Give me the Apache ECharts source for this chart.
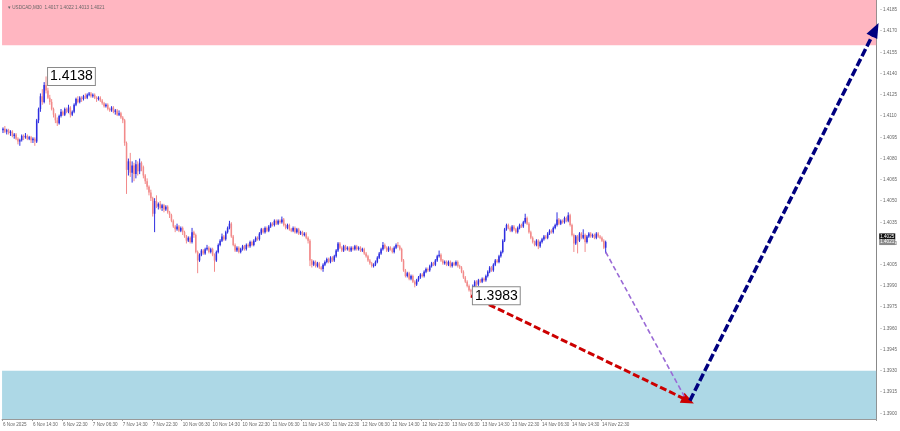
<!DOCTYPE html>
<html>
<head>
<meta charset="utf-8">
<script src="https://cdn.jsdelivr.net/npm/echarts@6/dist/echarts.min.js"></script>
<style>
html,body{margin:0;padding:0;background:#fff;}
#chart{width:900px;height:431px;}
</style>
</head>
<body>
<div id="chart"></div>
<script>
// ---- data (prices stored as pips above 1.3900) ----
const BASE = 1.39;
const PIP = 0.0001;
const symbolTitle = '\u25BE USDCAD,M30  1.4017 1.4022 1.4013 1.4021';
// candles: [open, close, low, high] in pips above BASE (M30 bars)
const candles = [
[200,201,198,202],[201,199,198,203],[199,200,197,201],[200,198,197,201],[198,199,196,200],[199,196,195,200],[196,197,194,198],[197,194,193,198],
[194,192,190,195],[192,193,189,194],[193,196,192,197],[196,195,193,197],[195,196,194,198],[196,194,193,197],[194,195,193,196],[195,193,191,196],
[193,194,191,195],[194,192,189,195],[192,207,191,208],[207,215,205,216],[215,224,213,226],[224,220,218,229],[220,232,219,234],[232,228,226,238],
[228,223,222,230],[223,220,218,225],[220,215,214,222],[215,211,209,216],[211,207,205,212],[207,205,203,209],[205,210,204,211],[210,213,209,215],
[213,211,210,214],[211,215,210,216],[215,213,212,216],[213,216,212,218],[216,211,209,217],[211,213,210,214],[213,218,212,219],[218,222,217,223],
[222,220,219,224],[220,223,219,224],[223,222,220,224],[222,224,221,225],[224,223,222,226],[223,225,222,226],[225,226,224,227],[226,224,223,227],
[224,225,223,226],[225,223,222,226],[223,222,220,224],[222,223,221,224],[223,221,220,224],[221,219,218,222],[219,217,216,220],[217,218,216,219],
[218,215,214,219],[215,214,213,216],[214,216,213,217],[216,213,212,217],[213,214,211,215],[214,211,210,215],[211,212,210,214],[212,209,208,213],
[209,207,205,210],[207,191,189,208],[191,172,155,192],[172,178,168,180],[178,170,167,184],[170,175,163,178],[175,169,164,177],[169,176,166,179],
[176,171,168,178],[171,177,169,180],[177,174,171,178],[174,168,166,175],[168,164,162,169],[164,160,158,166],[160,156,154,161],[156,152,150,158],
[152,141,139,153],[141,150,128,152],[150,146,145,154],[146,148,144,149],[148,145,144,150],[145,147,143,148],[147,144,142,148],[144,146,143,147],
[146,142,141,147],[142,140,138,143],[140,136,135,141],[136,132,131,137],[132,130,128,133],[130,132,129,134],[132,129,128,133],[129,131,128,132],
[131,128,126,132],[128,125,124,129],[125,122,120,126],[122,124,121,125],[124,121,120,125],[121,128,120,131],[128,126,124,129],[126,114,113,127],
[114,108,99,115],[108,112,107,113],[112,115,111,116],[115,113,112,116],[113,116,112,117],[116,117,115,119],[117,114,113,118],[114,116,113,117],
[116,112,111,117],[112,108,100,113],[108,114,107,115],[114,119,113,120],[119,122,118,123],[122,125,121,127],[125,123,122,126],[123,128,122,129],
[128,131,127,132],[131,134,130,136],[134,125,124,135],[125,119,118,126],[119,115,114,120],[115,117,114,118],[117,114,113,118],[114,116,113,117],
[116,118,115,119],[118,116,115,119],[116,119,115,120],[119,118,117,120],[118,121,117,122],[121,119,118,122],[119,122,118,123],[122,124,121,125],
[124,123,122,125],[123,127,122,128],[127,130,126,131],[130,128,127,131],[128,131,127,132],[131,129,128,132],[129,132,128,133],[132,134,131,135],
[134,133,132,135],[133,136,132,137],[136,134,133,137],[134,136,133,137],[136,135,134,137],[135,137,134,139],[137,133,132,138],[133,131,130,134],
[131,133,130,134],[133,130,129,134],[130,129,128,131],[129,131,128,132],[131,128,127,132],[128,130,127,131],[130,127,126,131],[127,128,126,129],
[128,126,125,129],[126,127,125,128],[127,124,123,128],[124,122,120,125],[122,108,104,123],[108,105,103,109],[105,107,104,108],[107,104,103,108],
[104,106,103,107],[106,103,102,107],[103,102,101,104],[102,105,100,106],[105,107,104,108],[107,109,106,110],[109,107,106,110],[107,110,106,111],
[110,108,107,111],[108,111,107,112],[111,115,110,116],[115,120,114,121],[120,117,116,121],[117,115,114,118],[115,118,114,119],[118,116,115,119],
[116,117,115,118],[117,115,114,118],[115,117,114,118],[117,116,115,118],[116,118,115,119],[118,116,115,119],[116,117,115,118],[117,115,114,118],
[115,116,114,117],[116,113,112,117],[113,111,110,114],[111,108,107,112],[108,106,105,109],[106,104,103,107],[104,105,103,106],[105,107,104,108],
[107,110,106,111],[110,113,109,114],[113,116,112,117],[116,119,115,121],[119,117,116,120],[117,115,114,118],[115,117,114,118],[117,116,115,118],
[116,114,113,117],[114,117,113,118],[117,119,116,120],[119,118,117,121],[118,116,115,119],[116,108,107,117],[108,101,100,109],[101,97,96,102],
[97,99,96,100],[99,95,94,100],[95,97,94,98],[97,93,92,98],[93,91,89,94],[91,94,90,95],[94,96,93,97],[96,98,95,99],
[98,97,96,99],[97,100,96,101],[100,102,99,103],[102,101,100,103],[101,104,100,105],[104,106,103,107],[106,105,104,107],[105,108,104,109],
[108,111,107,112],[111,112,110,115],[112,108,107,113],[108,106,105,109],[106,107,105,108],[107,105,104,108],[105,107,104,108],[107,104,103,108],
[104,106,103,107],[106,105,104,107],[105,107,104,108],[107,104,103,108],[104,103,102,105],[103,100,99,104],[100,96,95,101],[96,93,92,97],
[93,90,89,94],[90,87,86,91],[87,86,83,88],[86,90,85,91],[90,93,89,94],[93,91,90,94],[91,94,90,95],[94,93,92,95],
[93,95,92,96],[95,94,93,96],[94,97,93,98],[97,100,96,101],[100,103,99,104],[103,101,100,104],[101,105,100,106],[105,108,104,109],
[108,107,106,109],[107,111,106,112],[111,114,110,115],[114,122,113,123],[122,130,121,131],[130,133,129,134],[133,131,130,134],[131,129,128,132],
[129,132,128,133],[132,130,129,133],[130,128,127,131],[128,131,127,132],[131,133,130,134],[133,132,131,134],[132,135,131,136],[135,138,134,141],
[138,134,133,139],[134,128,127,135],[128,124,123,129],[124,121,120,125],[121,119,118,122],[119,122,118,123],[122,118,116,123],[118,121,117,122],
[121,123,120,124],[123,125,122,126],[125,124,123,126],[124,127,123,128],[127,129,126,130],[129,128,127,130],[128,131,127,132],[131,133,130,134],
[133,137,132,142],[137,134,133,138],[134,136,133,137],[136,135,134,137],[135,138,134,139],[138,136,135,139],[136,140,135,142],[140,133,132,141],
[133,126,125,134],[126,120,114,127],[120,125,119,126],[125,122,113,126],[122,127,121,128],[127,124,123,128],[124,126,123,130],[126,121,114,127],
[121,125,120,126],[125,127,124,128],[127,125,124,128],[125,126,124,127],[126,124,123,127],[124,127,123,128],[127,125,124,128],[125,124,123,126],
[124,122,121,125],[122,117,116,123],[117,121,113,122]
];
const totalSlots = 467;            // bars + empty chart-shift area
const xTickStep = 16;
const xTickLabels = ['6 Nov 2025','6 Nov 14:30','6 Nov 22:30','7 Nov 06:30','7 Nov 14:30','7 Nov 22:30',
  '10 Nov 06:30','10 Nov 14:30','10 Nov 22:30','11 Nov 06:30','11 Nov 14:30','11 Nov 22:30',
  '12 Nov 06:30','12 Nov 14:30','12 Nov 22:30','13 Nov 06:30','13 Nov 14:30','13 Nov 22:30',
  '14 Nov 06:30','14 Nov 14:30','14 Nov 22:30'];
const yTickLabels = ['1.4185','1.4170','1.4155','1.4140','1.4125','1.4110','1.4095','1.4080','1.4065','1.4050',
  '1.4035','1.4020','1.4005','1.3990','1.3975','1.3960','1.3945','1.3930','1.3915','1.3900'];
const yMin = 1.3896, yMax = 1.4192;
const sellZone = [1.4160, 1.4192];
const buyZone = [1.3896, 1.3930];
// wave marks: [barIndex, price]
const peakMark = [23, 1.4138];
const lowMark = [250, 1.3983];
const redArrow = [[250, 1.3983], [366, 1.3909]];
const purplePath = [[322, 1.4014], [364, 1.3912]];
const blueArrow = [[367, 1.3909], [466, 1.4171]];
const priceTags = [[1.4025, '1.4025', '#111'], [1.4021, '1.4021', '#8a8a8a']];

// ---- build ----
const BULL = '#2e2ee0', BEAR = '#f28a8a';
const toPrice = v => +(BASE + v * PIP).toFixed(4);
const seriesData = candles.map((c, i) => [i].concat(c.map(toPrice)));
const categories = Array.from({length: totalSlots}, (_, i) => 'b' + i);
const showTick = (i) => i % xTickStep === 0 && (i / xTickStep) < xTickLabels.length;
const yTickSet = new Set(yTickLabels.map(s => Math.round(parseFloat(s) * 10000)));

function renderCandle(params, api) {
  const i = api.value(0), o = api.value(1), c = api.value(2), l = api.value(3), h = api.value(4);
  const pO = api.coord([i, o]), pC = api.coord([i, c]);
  const pL = api.coord([i, l]), pH = api.coord([i, h]);
  const col = c >= o ? BULL : BEAR;
  const top = Math.min(pO[1], pC[1]);
  const bh = Math.max(1, Math.abs(pO[1] - pC[1]));
  const x = pO[0];
  return {
    type: 'group',
    children: [
      {type: 'line', shape: {x1: x, y1: pH[1], x2: x, y2: pL[1]}, style: {stroke: col, lineWidth: 1}},
      {type: 'rect', shape: {x: x - 0.75, y: top, width: 1.5, height: bh}, style: {fill: col}}
    ]
  };
}

const chart = echarts.init(document.getElementById('chart'), null, {renderer: 'canvas'});
const font = 'Liberation Sans';
chart.setOption({
  animation: false,
  backgroundColor: '#ffffff',
  title: {
    text: symbolTitle, left: 3, top: 0,
    textStyle: {fontSize: 4.6, fontWeight: 'normal', color: '#666', fontFamily: font}
  },
  grid: {left: 0, right: 17, top: 0, bottom: 12},
  xAxis: {
    type: 'category', data: categories, boundaryGap: true,
    axisLine: {show: true, lineStyle: {color: '#999', width: 1}},
    axisTick: {show: true, interval: showTick, length: 2, lineStyle: {color: '#999'}},
    axisLabel: {
      interval: showTick, align: 'left', margin: 3, fontSize: 4.6, color: '#666', fontFamily: font,
      formatter: (v) => { const i = parseInt(v.slice(1)); return showTick(i) ? xTickLabels[i / xTickStep] : ''; }
    },
    splitLine: {show: false}
  },
  yAxis: {
    type: 'value', position: 'right', min: yMin, max: yMax, interval: 0.0001, scale: true,
    axisLine: {show: true, lineStyle: {color: '#888', width: 1}},
    axisTick: {show: false},
    axisLabel: {
      margin: 4, fontSize: 4.6, color: '#666', fontFamily: font,
      formatter: (v) => yTickSet.has(Math.round(v * 10000)) ? '- ' + v.toFixed(4) : ''
    },
    splitLine: {show: false}
  },
  series: [{
    type: 'custom',
    renderItem: renderCandle,
    data: seriesData,
    encode: {x: 0, y: [1, 2, 3, 4]},
    clip: true,
    markArea: {
      silent: true,
      data: [
        [{yAxis: sellZone[0], itemStyle: {color: '#ffb6c1'}}, {yAxis: sellZone[1]}],
        [{yAxis: buyZone[0], itemStyle: {color: '#add8e6'}}, {yAxis: buyZone[1]}]
      ]
    },
    markLine: {
      silent: true,
      animation: false,
      data: [
        [{coord: redArrow[0], symbol: 'none', lineStyle: {color: '#cc0000', width: 3, type: [7, 3]}},
         {coord: redArrow[1], symbol: 'triangle', symbolSize: [11, 13]}],
        [{coord: purplePath[0], symbol: 'none', lineStyle: {color: '#9a6ad6', width: 1.6, type: [5, 3]}},
         {coord: purplePath[1], symbol: 'none'}],
        [{coord: blueArrow[0], symbol: 'none', lineStyle: {color: '#000080', width: 3.5, type: [8, 3]}},
         {coord: blueArrow[1], symbol: 'triangle', symbolSize: [12, 15]}],
        ...priceTags.map(t => [
          {coord: [0, t[0]], symbol: 'none', lineStyle: {color: 'rgba(0,0,0,0)', width: 1},
           label: {show: true, position: 'end', formatter: t[1], backgroundColor: t[2], color: '#fff',
                   fontSize: 4.6, fontFamily: font, padding: [1, 1, 0, 1], distance: 4}},
          {coord: [totalSlots - 1, t[0]], symbol: 'none'}
        ])
      ],
      label: {show: false}
    },
    markPoint: {
      silent: true,
      symbol: 'rect', symbolSize: 0,
      data: [peakMark, lowMark].map(m => ({
        coord: m, value: m[1].toFixed(4),
        label: {
          show: true, position: 'right', distance: 2, formatter: m[1].toFixed(4),
          fontSize: 14, color: '#000', fontFamily: font,
          backgroundColor: '#fff', borderColor: '#8a8a8a', borderWidth: 1, padding: [2, 2, 1, 2]
        }
      }))
    }
  }]
});
</script>
</body>
</html>
